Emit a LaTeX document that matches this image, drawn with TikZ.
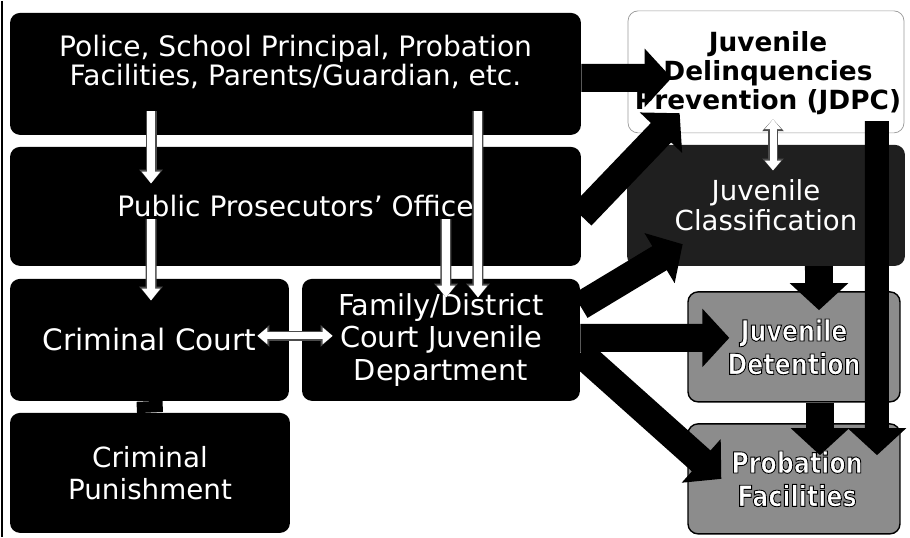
\documentclass[tikz,border=0pt]{standalone}
\usepackage{fontspec}
\setmainfont{DejaVu Sans}
\newfontfamily\narrowfont[FakeStretch=0.82, BoldFont={DejaVu Sans Bold}]{DejaVu Sans}
\usetikzlibrary{arrows.meta}

% white letters with a black rim (text render mode 2)
\newcommand\rimtext[1]{\special{pdf:literal 2 Tr 0.5 w 0 G}#1\special{pdf:literal 0 Tr}}

\tikzset{
  darkbox/.style={fill=black, rounded corners=0.2cm, inner sep=0pt, text=white, align=center},
  graybox/.style={fill=black!45, draw=black, line width=0.8pt, rounded corners=0.2cm, inner sep=0pt},
  boxfont/.style 2 args={font=\fontsize{#1}{#2}\selectfont},
  whitetext/.style={text=white, align=center, inner sep=0pt},
  outlinetext/.style={text=white, align=center, inner sep=0pt, font={\narrowfont\bfseries\fontsize{16.5}{19}\selectfont}},
  bigarrow/.style={line width=0.56cm, -{Triangle[length=0.54cm,width=1.14cm]}},
  whitearrow/.style={white, line width=0.16cm, -{Triangle[length=0.24cm,width=0.36cm]},
    preaction={draw=black!70, line width=0.22cm, -{Triangle[length=0.28cm,width=0.46cm]}}},
  whitedouble/.style={white, line width=0.14cm, {Triangle[length=0.2cm,width=0.32cm]}-{Triangle[length=0.2cm,width=0.32cm]},
    preaction={draw=black!70, line width=0.2cm, {Triangle[length=0.24cm,width=0.42cm]}-{Triangle[length=0.24cm,width=0.42cm]}}},
}

\begin{document}
\begin{tikzpicture}[x=0.02cm, y=-0.02cm]
\fill[white] (0,0) rectangle (910,536);
\draw[line width=1pt] (2,0) -- (2,536);

% left column of black boxes
\node[darkbox, minimum width=11.42cm, minimum height=2.44cm] (police) at (295.5,73) {};
\node[darkbox, boxfont={16}{17}, minimum width=11.42cm, minimum height=2.38cm] (prosecutor) at (295.5,205.5) {Public Prosecutors' Office};
\node[darkbox, boxfont={16.8}{17}, minimum width=5.58cm, minimum height=2.44cm] (court) at (149.5,339) {Criminal Court};
\node[darkbox, boxfont={16.4}{18.6}, minimum width=5.56cm, minimum height=2.44cm] (family) at (441,339) {Family/District\\Court Juvenile\\Department};
\node[darkbox, boxfont={15.8}{18.2}, minimum width=5.6cm, minimum height=2.4cm] (punishment) at (150,472) {Criminal\\Punishment};
\node[whitetext, boxfont={16}{16.4}] (police-text) at ([yshift=0.24cm]police) {Police, School Principal, Probation\\Facilities, Parents/Guardian, etc.};

% right column
\node[draw=black!40, fill=white, rounded corners=0.2cm, minimum width=5.52cm, minimum height=2.44cm] (jdpc) at (766,71) {};
\node[darkbox, fill=black!88, boxfont={15.7}{17}, minimum width=5.56cm, minimum height=2.42cm] (classification) at (766,204.5) {Juvenile\\Classification};
\node[graybox, minimum width=4.24cm, minimum height=2.2cm] (detention) at (794,346) {};
\node[graybox, minimum width=4.24cm, minimum height=2.2cm] (probation) at (794,478) {};

% white arrows
\draw[whitearrow] ([xshift=-2.89cm,yshift=0.48cm]police.south) -- ([xshift=-2.89cm,yshift=-0.74cm]prosecutor.north);
\draw[whitearrow] ([xshift=-2.89cm,yshift=0.94cm]prosecutor.south) -- ([xshift=0.03cm,yshift=-0.44cm]court.north);
\draw[whitearrow] ([xshift=3.01cm,yshift=0.94cm]prosecutor.south) -- ([xshift=0.1cm,yshift=-0.38cm]family.north);
\draw[whitearrow] ([xshift=3.65cm,yshift=0.48cm]police.south) -- ([xshift=0.74cm,yshift=-0.38cm]family.north);
\draw[whitedouble] ([xshift=-0.64cm,yshift=0.08cm]court.east) -- ([xshift=0.62cm,yshift=0.08cm]family.west);
\draw[whitedouble] ([xshift=0.14cm,yshift=0.28cm]jdpc.south) -- ([xshift=0.14cm,yshift=-0.52cm]classification.north);

% black arrows
\draw[line width=0.52cm] (court.south) -- (punishment.north);
\draw[bigarrow] ([yshift=-0.08cm]police.east) -- ([xshift=0.88cm,yshift=-0.12cm]jdpc.west);
\draw[bigarrow] ([yshift=-0.19cm]prosecutor.east) -- ([xshift=1.04cm,yshift=0.4cm]jdpc.south west);
\draw[bigarrow] ([yshift=0.68cm]family.east) -- ([xshift=1.12cm,yshift=0.44cm]classification.south west);
\draw[bigarrow] ([yshift=0.04cm]family.east) -- ([xshift=0.84cm,yshift=0.18cm]detention.west);
\draw[bigarrow] ([yshift=-0.26cm]family.east) -- ([xshift=0.68cm]probation.west);
\draw[bigarrow] ([xshift=1.06cm]classification.south) -- ([xshift=0.5cm,yshift=-0.38cm]detention.north);
\draw[bigarrow] ([xshift=0.52cm]detention.south) -- ([xshift=0.52cm,yshift=-0.64cm]probation.north);
\draw[bigarrow, line width=0.48cm] ([xshift=2.22cm,yshift=0.24cm]jdpc.south) -- ([xshift=1.66cm,yshift=-0.64cm]probation.north);

% texts over the arrows
\node[align=center, inner sep=0pt, font=\bfseries\fontsize{15}{16.4}\selectfont] (jdpc-text) at (768,72) {Juvenile\\Delinquencies\\Prevention (JDPC)};
\node[outlinetext] (detention-text) at (794,346) {\rimtext{Juvenile}\\\rimtext{Detention}};
\node[outlinetext] (probation-text) at (797,478) {\rimtext{Probation}\\\rimtext{Facilities}};
\end{tikzpicture}
\end{document}
